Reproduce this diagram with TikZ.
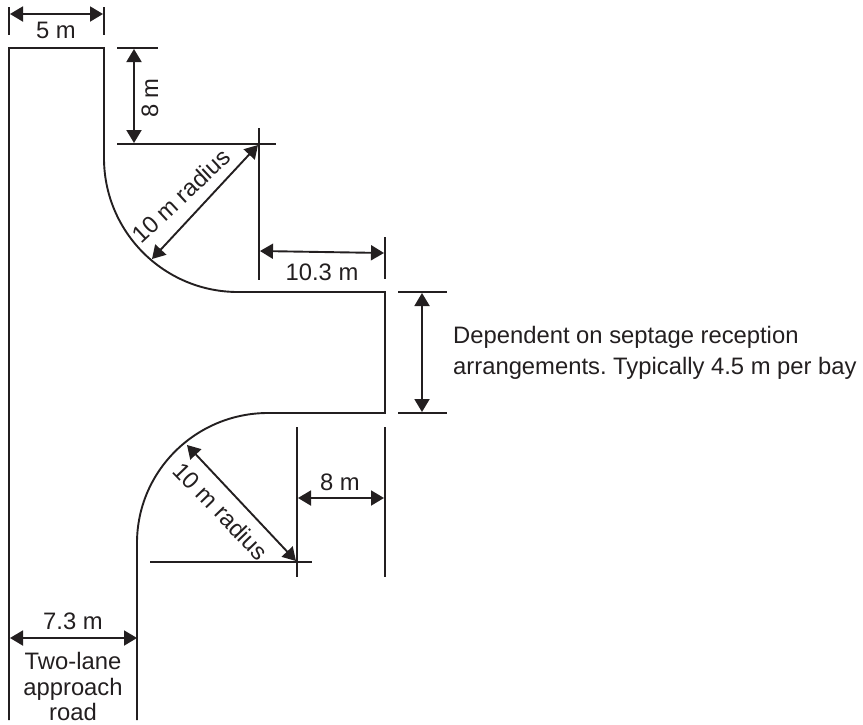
\documentclass[tikz,border=0pt]{standalone}
\usepackage{fontspec}
\setmainfont{Liberation Sans}
\usetikzlibrary{arrows.meta}
\definecolor{ink}{HTML}{231F20}
\tikzset{
  road/.style={draw=ink,line width=1.9pt},
  tick/.style={draw=ink,line width=1.9pt},
  dim/.style={draw=ink,line width=1.9pt,{Triangle[length=13pt,width=15pt]}-{Triangle[length=13pt,width=15pt]},shorten <=0pt,shorten >=0pt},
  lbl/.style={text=ink,inner sep=0pt,font=\fontsize{23.8}{28}\selectfont},
}
\begin{document}
\frenchspacing
\begin{tikzpicture}[x=1pt,y=-1pt]
\useasboundingbox (0,0) rectangle (863,724);
% road outline
\coordinate (rl) at (9,48);
\coordinate (rlb) at (9,720);
\coordinate (rr) at (104,48);
\coordinate (a1) at (104,158);
\coordinate (a1e) at (238,292);
\coordinate (c1) at (385,292);
\coordinate (c2) at (385,413);
\coordinate (a2) at (268,413);
\coordinate (a2e) at (137,543);
\coordinate (rb) at (137,720);
\draw[road,line join=miter] (rlb) -- (rl) -- (rr) -- (a1) .. controls (104,232) and (164,292) .. (a1e) -- (c1) -- (c2) -- (a2) .. controls (196,413) and (137,471) .. (a2e) -- (rb);
% 5 m
\coordinate (t5a) at (9,7); \coordinate (t5b) at (9,35);
\coordinate (t5c) at (104,7); \coordinate (t5d) at (104,35);
\draw[tick] (t5a) -- (t5b); \draw[tick] (t5c) -- (t5d);
\coordinate (d5a) at (10,14); \coordinate (d5b) at (103,14);
\draw[dim] (d5a) -- (d5b);
\node[lbl] (l5) at (56,30) {5 m};
% 8 m vertical
\coordinate (h1a) at (117,48); \coordinate (h1b) at (158,48);
\coordinate (h2a) at (117,144); \coordinate (h2b) at (276,144);
\draw[tick] (h1a) -- (h1b); \draw[tick] (h2a) -- (h2b);
\coordinate (d8a) at (134,49); \coordinate (d8b) at (134,143);
\draw[dim] (d8a) -- (d8b);
\node[lbl,rotate=90] (l8) at (150,98) {8 m};
% center 1
\coordinate (v1a) at (259,128); \coordinate (v1b) at (259,280);
\draw[tick] (v1a) -- (v1b);
\coordinate (r1a) at (258,145); \coordinate (r1b) at (152,259);
\draw[dim] (r1a) -- (r1b);
\node[lbl,rotate=43] (lr1) at (181,196) {10 m radius};
% 10.3 m
\coordinate (t10a) at (385,237); \coordinate (t10b) at (385,279);
\draw[tick] (t10a) -- (t10b);
\coordinate (d10a) at (260,251); \coordinate (d10b) at (384,253);
\draw[dim] (d10a) -- (d10b);
\node[lbl] (l10) at (322,272) {10.3 m};
% bay
\coordinate (b1a) at (398,292); \coordinate (b1b) at (447,292);
\coordinate (b2a) at (398,413); \coordinate (b2b) at (447,413);
\draw[tick] (b1a) -- (b1b); \draw[tick] (b2a) -- (b2b);
\coordinate (dba) at (422,293); \coordinate (dbb) at (422,412);
\draw[dim] (dba) -- (dbb);
\node[lbl,anchor=west] (lb1) at (453,337) {Dependent on septage reception};
\node[lbl,anchor=west] (lb2) at (453,368) {arrangements. Typically 4.5 m per bay};
% lower
\coordinate (v2a) at (297,427); \coordinate (v2b) at (297,577);
\coordinate (v3a) at (385,427); \coordinate (v3b) at (385,577);
\draw[tick] (v2a) -- (v2b); \draw[tick] (v3a) -- (v3b);
\coordinate (h3a) at (150,562); \coordinate (h3b) at (312,562);
\draw[tick] (h3a) -- (h3b);
\coordinate (d8la) at (298,498); \coordinate (d8lb) at (384,498);
\draw[dim] (d8la) -- (d8lb);
\node[lbl] (l8b) at (340,482) {8 m};
\coordinate (r2a) at (187,445); \coordinate (r2b) at (296,561);
\draw[dim] (r2a) -- (r2b);
\node[lbl,rotate=-46] (lr2) at (221,511) {10 m radius};
% 7.3 m
\coordinate (d7a) at (10,638); \coordinate (d7b) at (137,638);
\draw[dim] (d7a) -- (d7b);
\node[lbl] (l7) at (73,621) {7.3 m};
\node[lbl] (ln1) at (73,661) {Two-lane};
\node[lbl] (ln2) at (73,689) {approach};
\node[lbl] (ln3) at (73,712) {road};
\end{tikzpicture}
\end{document}
